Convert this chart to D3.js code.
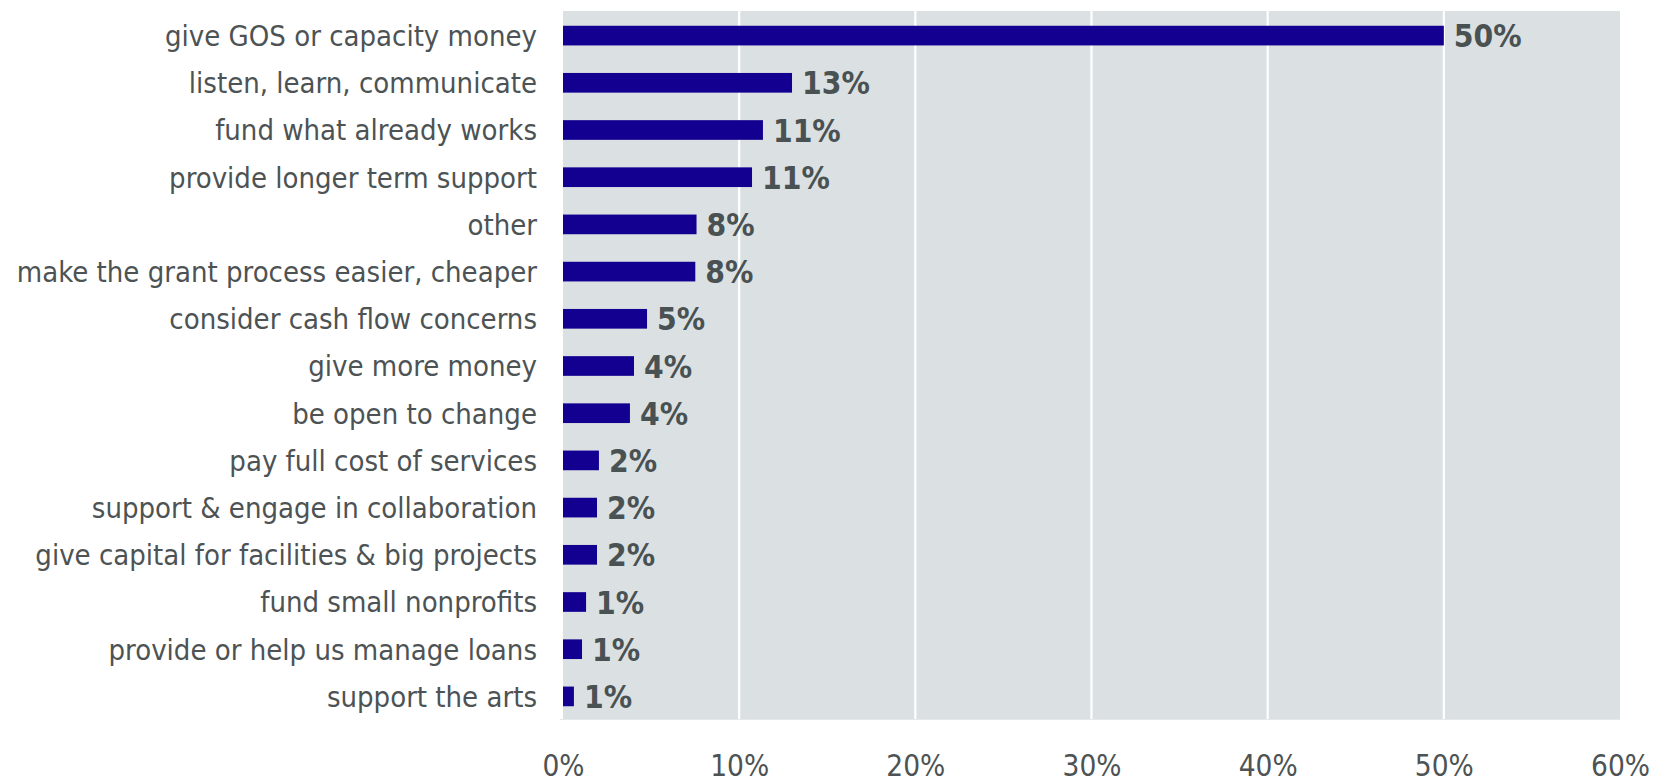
<!DOCTYPE html>
<html>
<head>
<meta charset="utf-8">
<script src="https://cdn.jsdelivr.net/npm/d3@7"></script>
<style>
  html, body { margin: 0; padding: 0; background: #ffffff; }
  svg { display: block; }
</style>
</head>
<body>
<svg id="chart" width="1654" height="782"></svg>
<script>
// Categories, top to bottom
const categories = [
  "give GOS or capacity money",
  "listen, learn, communicate",
  "fund what already works",
  "provide longer term support",
  "other",
  "make the grant process easier, cheaper",
  "consider cash flow concerns",
  "give more money",
  "be open to change",
  "pay full cost of services",
  "support & engage in collaboration",
  "give capital for facilities & big projects",
  "fund small nonprofits",
  "provide or help us manage loans",
  "support the arts"
];

// Share of responses (fraction of 1)
const shares = [
  0.500, 0.130, 0.1135, 0.1073, 0.0758, 0.0751, 0.0477,
  0.0403, 0.0380, 0.0204, 0.0193, 0.0193, 0.0131, 0.0108, 0.0062
];

// X axis ticks
const xTicks = [0, 0.1, 0.2, 0.3, 0.4, 0.5, 0.6];

const svg = d3.select("#chart");
const plot = { left: 563, right: 1620, top: 11, bottom: 719 };

const x = d3.scaleLinear().domain([0, 0.6]).range([plot.left, plot.right]);
const y = d3.scaleBand()
  .domain(categories)
  .range([plot.top + 1, plot.bottom + 1])
  .paddingInner(0.583)
  .paddingOuter(0.2915);

// Plot background
svg.append("rect")
  .attr("x", plot.left).attr("y", plot.top)
  .attr("width", plot.right - plot.left)
  .attr("height", plot.bottom - plot.top)
  .attr("fill", "#dbe1e3");

// Vertical gridlines
svg.append("g")
  .selectAll("line")
  .data(xTicks.slice(1, -1))
  .join("line")
  .attr("x1", d => x(d)).attr("x2", d => x(d))
  .attr("y1", plot.top).attr("y2", plot.bottom)
  .attr("stroke", "#ffffff")
  .attr("stroke-width", 2.2);

// Faint baseline along the bottom
svg.append("line")
  .attr("x1", plot.left - 3).attr("x2", plot.right)
  .attr("y1", plot.bottom + 0.5).attr("y2", plot.bottom + 0.5)
  .attr("stroke", "#e4e8e9").attr("stroke-width", 1);

// X axis labels
const xAxis = d3.axisBottom(x)
  .tickValues(xTicks)
  .tickFormat(d3.format(".0%"))
  .tickSize(0)
  .tickPadding(0);

const gx = svg.append("g")
  .attr("transform", `translate(0, ${plot.bottom})`)
  .call(xAxis);
gx.select(".domain").remove();
gx.selectAll("text")
  .attr("dy", null)
  .attr("y", 56.5)
  .attr("font-family", "'DejaVu Sans Condensed', 'DejaVu Sans', sans-serif")
  .attr("font-size", 29.5)
  .attr("fill", "#4d5354");

// Category labels
const yAxis = d3.axisLeft(y).tickSize(0).tickPadding(0);
const gy = svg.append("g")
  .attr("transform", `translate(537, 0)`)
  .call(yAxis);
gy.select(".domain").remove();
gy.selectAll("text")
  .attr("x", 0)
  .attr("dy", "0.36em")
  .attr("font-family", "'DejaVu Sans Condensed', 'DejaVu Sans', sans-serif")
  .attr("font-size", 29)
  .attr("fill", "#4d5354");

// Bars
const rows = categories.map((c, i) => ({ category: c, share: shares[i] }));

svg.append("g")
  .selectAll("rect")
  .data(rows)
  .join("rect")
  .attr("x", x(0))
  .attr("y", d => y(d.category))
  .attr("width", d => x(d.share) - x(0))
  .attr("height", y.bandwidth())
  .attr("fill", "#140090");

// Value labels
const pct = d3.format(".0%");
svg.append("g")
  .selectAll("text")
  .data(rows)
  .join("text")
  .attr("x", d => x(d.share) + 10)
  .attr("y", d => y(d.category) + y.bandwidth() / 2)
  .attr("dy", "0.37em")
  .attr("font-family", "'DejaVu Sans Condensed', 'DejaVu Sans', sans-serif")
  .attr("font-weight", "bold")
  .attr("font-size", 31.5)
  .attr("fill", "#4a5152")
  .text(d => pct(d.share));
</script>
</body>
</html>
